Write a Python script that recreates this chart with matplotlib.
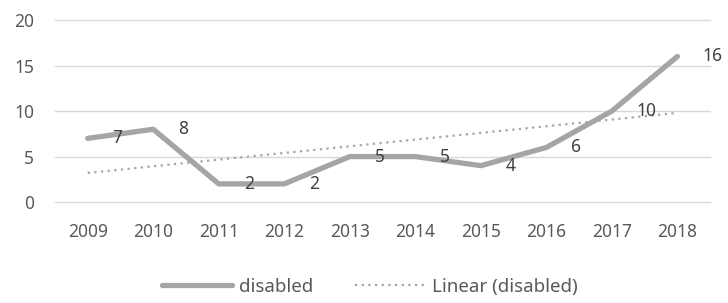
import matplotlib.pyplot as plt
import numpy as np

plt.rcParams['font.family'] = ['Noto Sans', 'DejaVu Sans']

years = ['2009', '2010', '2011', '2012', '2013', '2014', '2015', '2016', '2017', '2018']
disabled = [7, 8, 2, 2, 5, 5, 4, 6, 10, 16]

fig = plt.figure(figsize=(7.28, 3.03), dpi=100)
ax = fig.add_axes([0.0755, 0.333, 0.9, 0.601])

x = np.arange(len(years))
ax.plot(x, disabled, color='#a5a5a5', lw=3.8, solid_capstyle='round',
        solid_joinstyle='round', label='disabled', zorder=3)

# linear trendline
k, b = np.polyfit(x, disabled, 1)
ax.plot(x, k * x + b, color='#a5a5a5', lw=1.6, ls=(0, (1, 2)),
        label='Linear (disabled)', zorder=2)

for xi, v in zip(x, disabled):
    ax.annotate(str(v), (xi, v), xytext=(18, 0), textcoords='offset points',
                ha='left', va='center', fontsize=12.5, color='#404040', zorder=4)

ax.set_xlim(-0.5, len(years) - 0.5)
ax.set_ylim(0, 20)
ax.set_yticks([0, 5, 10, 15, 20])
ax.set_xticks(x)
ax.set_xticklabels(years)
ax.grid(axis='y', color='#d9d9d9', lw=1)
for gl in ax.get_ygridlines():
    gl.set_clip_on(False)
ax.set_axisbelow(True)
for s in ax.spines.values():
    s.set_visible(False)
ax.tick_params(length=0, labelsize=12.5, colors='#595959', pad=15)
ax.tick_params(axis='y', pad=15)

fig.legend(loc='center', bbox_to_anchor=(0.508, 0.053), ncol=2, frameon=False,
           fontsize=13.5, labelcolor='#595959', handlelength=3.7, columnspacing=2.2,
           handletextpad=0.4)

fig.savefig('out.png', dpi=100)
